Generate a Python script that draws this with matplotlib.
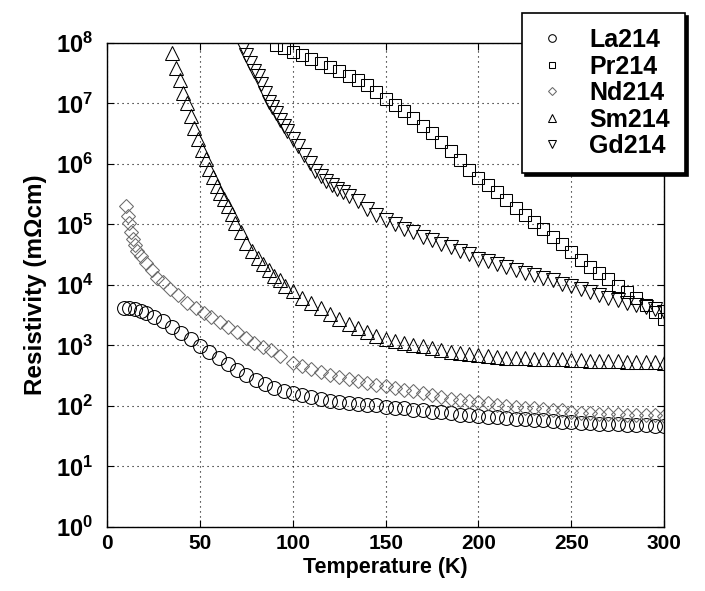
import math
import matplotlib
matplotlib.use("Agg")
import matplotlib.pyplot as plt
from matplotlib.ticker import FixedLocator, FuncFormatter

plt.rcParams['font.family'] = ['Liberation Sans', 'DejaVu Sans']
plt.rcParams['font.weight'] = 'bold'
plt.rcParams['mathtext.fontset'] = 'custom'
plt.rcParams['mathtext.rm'] = 'Liberation Sans:bold'
plt.rcParams['mathtext.bf'] = 'Liberation Sans:bold'
plt.rcParams['mathtext.default'] = 'bf'

# ---------------- data ----------------
la_T = [9, 12, 15, 18, 21, 25, 30, 35, 40, 45, 50, 55, 60, 65, 70, 75, 80, 85, 90, 95, 100,
        105, 110, 115, 120, 125, 130, 135, 140, 145, 150, 155, 160, 165, 170, 175, 180, 185,
        190, 195, 200, 205, 210, 215, 220, 225, 230, 235, 240, 245, 250, 255, 260, 265, 270,
        275, 280, 285, 290, 295, 300]
la_rho = [4.2e3, 4.1e3, 4.0e3, 3.7e3, 3.4e3, 3.0e3, 2.5e3, 2.0e3, 1.6e3, 1.3e3, 980, 780, 620,
          490, 400, 320, 270, 230, 200, 180, 166,
          151, 141, 132, 123, 117, 112, 107, 105, 102, 98, 93, 91, 87, 85, 81, 79, 76,
          72, 71, 68, 66, 65, 63, 62, 60, 59, 58, 56, 55, 54, 53, 52, 51, 50,
          49.5, 49, 48.5, 48, 47.5, 47]

nd_T = [10, 11, 12, 13, 14, 15, 16, 18, 21, 24, 27, 30, 34, 38, 43, 48, 52, 56, 61, 65, 70,
        75, 79, 84, 88, 93, 100, 105, 110, 115, 120, 125, 130, 135, 140, 145, 150, 155, 160,
        165, 170, 175, 180, 185, 190, 195, 200, 205, 210, 215, 220, 225, 230, 235, 240, 245,
        250, 255, 260, 265, 270, 275, 280, 285, 290, 295, 300]
nd_rho = [2.0e5, 1.4e5, 1.05e5, 7.6e4, 5.8e4, 4.5e4, 3.7e4, 3.0e4, 2.3e4, 1.8e4, 1.3e4, 1.1e4,
          8.5e3, 6.8e3, 5.1e3, 4.2e3, 3.5e3, 3.0e3, 2.4e3, 2.0e3, 1.7e3,
          1.35e3, 1.1e3, 950, 830, 680, 520, 460, 410, 360, 330, 300, 275, 257, 240, 224,
          214, 200, 186, 174, 162, 151, 141, 132, 126, 120, 115, 110, 105, 100, 98, 93,
          91, 89, 87, 85, 79, 78, 76, 75, 74, 73, 72, 71.5, 71, 70, 69]

sm_T = [35, 37, 39, 41, 43, 45, 47, 49, 51, 53, 55, 57, 59, 61, 63, 65, 67, 69, 72, 75, 78,
        81, 84, 87, 90, 93, 96, 100, 105, 110, 115, 120, 125, 130, 135, 140, 145, 150, 155,
        160, 165, 170, 175, 180, 185, 190, 195, 200, 205, 210, 215, 220, 225, 230, 235, 240,
        245, 250, 255, 260, 265, 270, 275, 280, 285, 290, 295, 300]
sm_rho = [6.9e7, 3.8e7, 2.4e7, 1.5e7, 1.0e7, 6.3e6, 4.0e6, 2.6e6, 1.7e6, 1.2e6, 8.3e5, 6.0e5,
          4.3e5, 3.3e5, 2.6e5, 2.0e5, 1.5e5, 1.07e5, 7.4e4, 5.0e4, 3.6e4,
          2.8e4, 2.2e4, 1.8e4, 1.4e4, 1.2e4, 9.8e3, 7.9e3, 6.0e3, 5.0e3, 4.1e3, 3.3e3,
          2.75e3, 2.3e3, 1.95e3, 1.66e3, 1.45e3, 1.29e3, 1.17e3, 1.1e3, 1.02e3, 980, 910,
          850, 790, 760, 720, 690, 660, 645, 630, 617, 617, 603, 603, 590, 590, 575, 575,
          562, 562, 550, 550, 537, 537, 525, 525, 513]

gd_T = [73, 75, 77, 79, 81, 83, 85, 87, 89, 91, 93, 95, 97, 100, 103, 106, 109, 112, 115,
        118, 121, 124, 127, 130, 135, 140, 145, 150, 155, 160, 165, 170, 175, 180, 185, 190,
        195, 200, 205, 210, 215, 220, 225, 230, 235, 240, 245, 250, 255, 260, 265, 270, 275,
        280, 285, 290, 295, 300]
gd_rho = [8.7e7, 6.3e7, 4.7e7, 3.5e7, 2.8e7, 2.1e7, 1.5e7, 1.07e7, 8.7e6, 6.9e6, 5.4e6,
          4.3e6, 3.5e6, 2.6e6, 1.95e6, 1.4e6, 1.05e6, 7.6e5, 6.3e5, 5.2e5, 4.5e5, 3.9e5,
          3.4e5, 3.0e5, 2.4e5, 1.8e5, 1.45e5, 1.2e5, 1.0e5, 8.5e4, 7.4e4, 6.3e4, 5.5e4,
          4.8e4, 4.2e4, 3.6e4, 3.2e4, 2.7e4, 2.45e4, 2.2e4, 2.0e4, 1.8e4, 1.6e4, 1.45e4,
          1.3e4, 1.2e4, 1.05e4, 9.5e3, 8.5e3, 7.6e3, 6.9e3, 6.2e3, 5.6e3, 5.1e3, 4.7e3,
          4.4e3, 4.0e3, 3.6e3]

pr_T = [91, 95, 100, 105, 110, 115, 120, 125, 130, 135, 140, 145, 150, 155, 160, 165, 170,
        175, 180, 185, 190, 195, 200, 205, 210, 215, 220, 225, 230, 235, 240, 245, 250, 255,
        260, 265, 270, 275, 280, 285, 290, 295, 300]
pr_rho = [9.3e7, 8.3e7, 7.2e7, 6.3e7, 5.4e7, 4.7e7, 4.0e7, 3.4e7, 2.8e7, 2.4e7, 2.0e7,
          1.55e7, 1.17e7, 9.3e6, 7.4e6, 5.8e6, 4.3e6, 3.2e6, 2.3e6, 1.66e6, 1.17e6, 8.1e5,
          5.9e5, 4.5e5, 3.4e5, 2.5e5, 1.9e5, 1.45e5, 1.1e5, 8.3e4, 6.2e4, 4.7e4, 3.5e4,
          2.6e4, 2.0e4, 1.6e4, 1.26e4, 9.8e3, 7.8e3, 6.2e3, 4.7e3, 3.6e3, 2.75e3]

series_labels = ['La214', 'Pr214', 'Nd214', 'Sm214', 'Gd214']
x_ticks = [0, 50, 100, 150, 200, 250, 300]
y_exponents = [0, 1, 2, 3, 4, 5, 6, 7, 8]

# ---------------- figure ----------------
fig = plt.figure(figsize=(7.05, 5.91), dpi=100)
ax = fig.add_axes([0.152, 0.1083, 0.790, 0.8190])

mk = dict(linestyle='none', markerfacecolor='none', markeredgewidth=0.75, clip_on=True)
h_la, = ax.plot(la_T, la_rho, marker='o', markersize=10, markeredgecolor='black', **mk)
h_pr, = ax.plot(pr_T, pr_rho, marker='s', markersize=9, markeredgecolor='black', **mk)
h_nd, = ax.plot(nd_T, nd_rho, marker='D', markersize=7, markeredgecolor='#6a6a6a', **mk)
h_sm, = ax.plot(sm_T, sm_rho, marker='^', markersize=10, markeredgecolor='black', **mk)
h_gd, = ax.plot(gd_T, gd_rho, marker='v', markersize=10, markeredgecolor='black', **mk)

ax.set_yscale('log')
ax.set_xlim(0, 300)
ax.set_ylim(1, 1e8)
ax.xaxis.set_major_locator(FixedLocator(x_ticks))
ax.yaxis.set_major_locator(FixedLocator([10.0 ** e for e in y_exponents]))
ax.yaxis.set_minor_locator(FixedLocator([]))
ax.yaxis.set_major_formatter(FuncFormatter(lambda v, p: r'$\mathbf{10^{%d}}$' % round(math.log10(v))))

ax.grid(True, which='major', color='black', linestyle=(0, (1, 3.5)), linewidth=0.8)
ax.tick_params(axis='both', which='major', direction='in', length=5, width=0.8,
               top=True, right=True)
ax.tick_params(axis='x', pad=5, labelsize=15)
ax.tick_params(axis='y', pad=10, labelsize=17)
for lab in ax.get_xticklabels() + ax.get_yticklabels():
    lab.set_fontweight('bold')
for s in ax.spines.values():
    s.set_linewidth(1.0)

ax.set_xlabel('Temperature (K)', fontsize=15.5, fontweight='bold', labelpad=3)
ax.set_ylabel('Resistivity (mΩcm)', fontsize=17.5, fontweight='bold', labelpad=6)

leg = fig.legend([h_la, h_pr, h_nd, h_sm, h_gd], series_labels,
                 loc='upper right', bbox_to_anchor=(0.9716, 0.978),
                 bbox_transform=fig.transFigure, borderaxespad=0,
                 prop={'weight': 'bold', 'size': 18}, markerscale=0.55,
                 frameon=True, fancybox=False, edgecolor='black',
                 shadow={'color': 'black', 'alpha': 1.0},
                 labelspacing=0.1, handletextpad=0.9, handlelength=1.2,
                 borderpad=0.6)
leg.get_frame().set_linewidth(1.2)

fig.savefig('out.png', dpi=100)
